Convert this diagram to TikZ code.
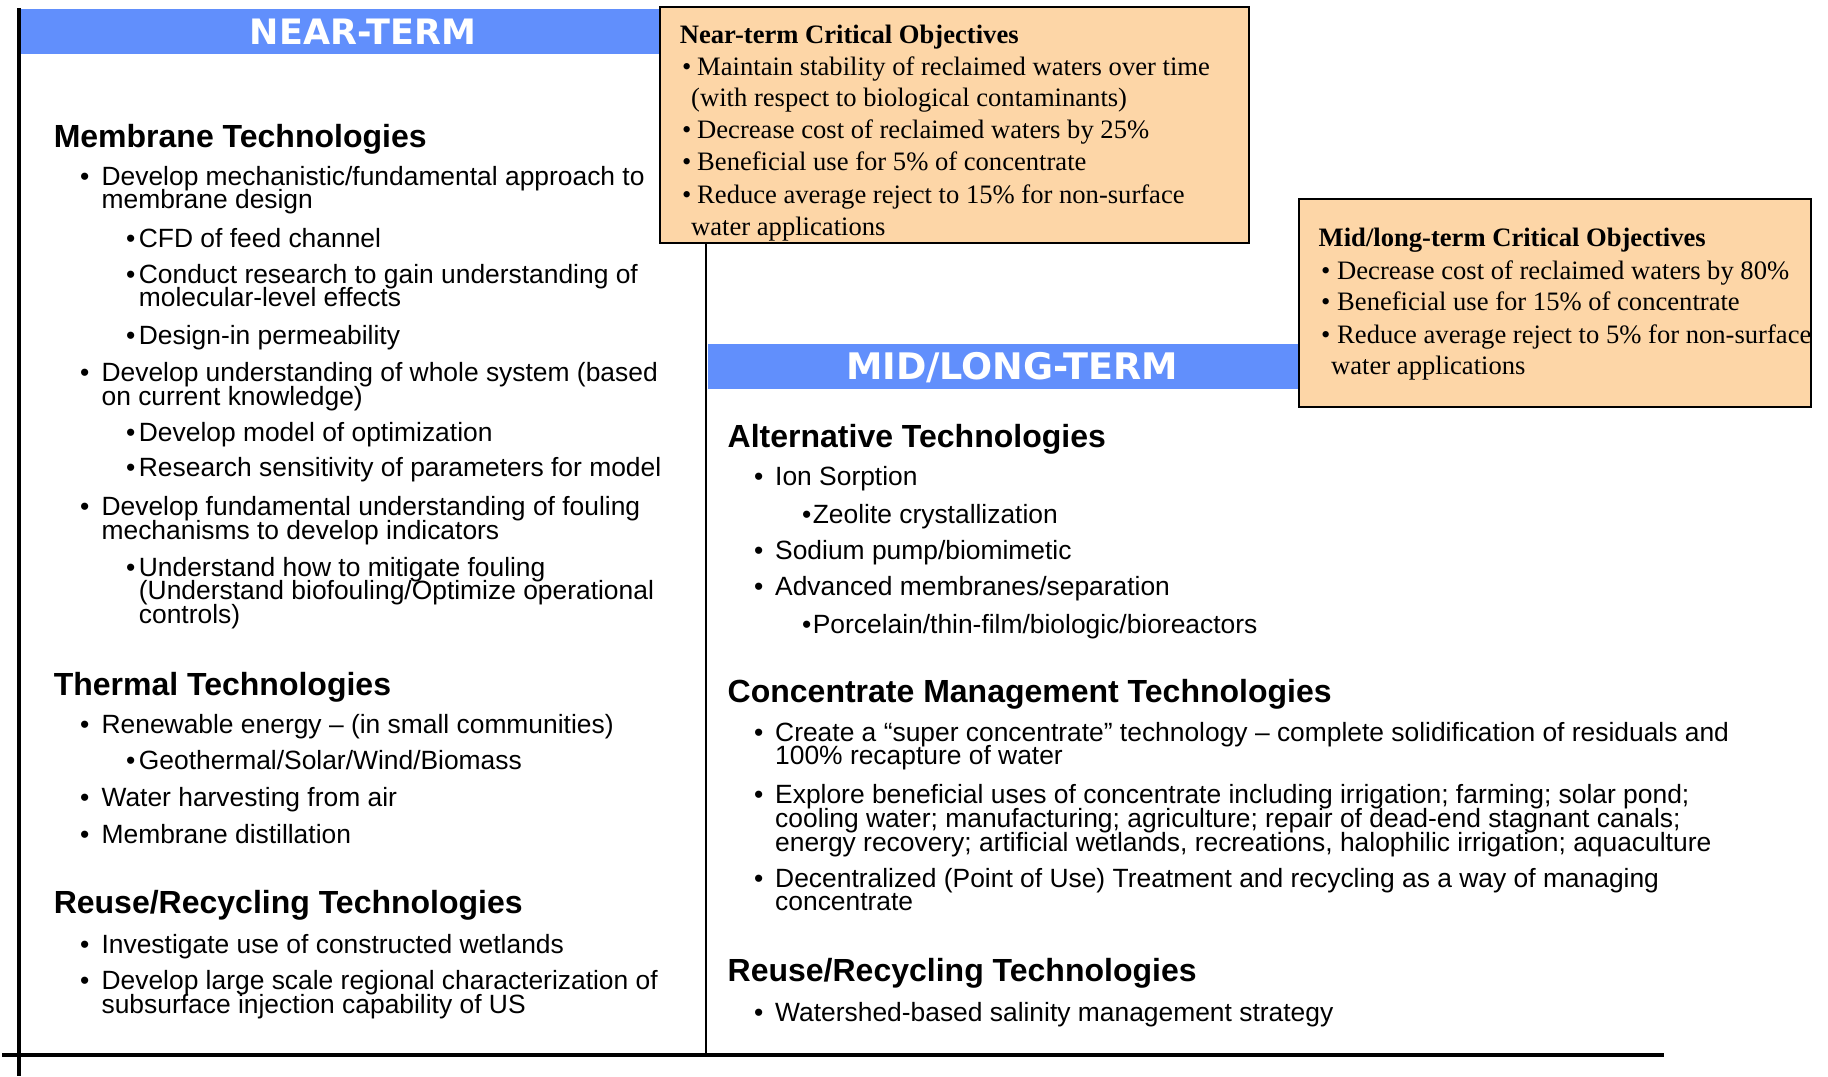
\documentclass[tikz,border=0pt]{standalone}
\usepackage{fontspec}
\setmainfont{Liberation Sans}
\newfontfamily\serifF{Liberation Serif}
\newfontfamily\headF{DejaVu Sans}
\definecolor{barblue}{RGB}{97,143,252}
\definecolor{peach}{RGB}{253,214,167}
\tikzset{
  bar/.style={fill=barblue, draw=none, inner sep=0, anchor=north west},
  objbox/.style={fill=peach, draw=black, line width=2.2pt, inner sep=0, outer sep=0, anchor=north west},
  band/.style={text=white, inner sep=0, font=\headF\bfseries\fontsize{35}{35}\selectfont, text height=25.5pt, text depth=0pt},
  hd/.style={anchor=west, inner sep=0, font=\bfseries\fontsize{32}{32}\selectfont, text height=22.9pt, text depth=0pt},
  tx/.style={anchor=west, inner sep=0, font=\fontsize{26.4}{26}\selectfont, text height=18.9pt, text depth=0pt},
  ob/.style={anchor=west, inner sep=0, font=\serifF\fontsize{26.6}{26}\selectfont, text height=17.6pt, text depth=0pt},
  obt/.style={ob, font=\serifF\bfseries\fontsize{26.6}{26}\selectfont},
  frameline/.style={line width=3.8pt, black},
  divline/.style={line width=1.6pt, black}
}
\newcommand\bitem[5]{%
  \node[tx] (#1-b) at (#2,#4) {\textbullet};
  \node[tx] (#1) at (#3,#4) {#5};}
\newcommand\contl[4]{\node[tx] (#1) at (#2,#3) {#4};}
\newcommand\oitem[5]{%
  \node[ob] (#1-b) at (#2,#4) {\textbullet};
  \node[ob] (#1) at (#3,#4) {#5};}
\begin{document}
\begin{tikzpicture}[x=1pt,y=-1pt]
\useasboundingbox (0,0) rectangle (1828,1076);
\fill[white] (0,0) rectangle (1828,1076);

% bands
\node[bar, minimum width=639pt, minimum height=45pt] (nearbar) at (21,9) {};
\node[bar, minimum width=591pt, minimum height=45pt] (midbar) at (708,344) {};
\node[band] (neartitle) at (363,31.5) {NEAR-TERM};
\node[band, font=\headF\bfseries\fontsize{36.6}{36}\selectfont, text height=26.6pt] (midtitle) at (1012,366.5) {MID/LONG-TERM};

% objective boxes
\node[objbox, minimum width=589pt, minimum height=236pt] (nearbox) at (660,7) {};
\node[objbox, minimum width=512pt, minimum height=208pt] (midbox) at (1299,199) {};

% frame lines
\coordinate (ltop) at (19,8);
\coordinate (lbot) at (19,1076);
\coordinate (bl) at (2,1055);
\coordinate (br) at (1664,1055);
\coordinate (divtop) at (706,243);
\coordinate (divbot) at (706,1055);
\draw[frameline] (ltop) -- (lbot);
\draw[frameline, line width=4.5pt] (bl) -- (br);
\draw[divline] (divtop) -- (divbot);

% near-term objectives
\node[obt] (nobj) at (679.7,35) {Near-term Critical Objectives};
\oitem{n1}{682}{697}{66.5}{Maintain stability of reclaimed waters over time}
\node[ob] (n1c) at (691,98) {(with respect to biological contaminants)};
\oitem{n2}{682}{697}{129.4}{Decrease cost of reclaimed waters by 25\%}
\oitem{n3}{682}{697}{162}{Beneficial use for 5\% of concentrate}
\oitem{n4}{682}{697}{194.7}{Reduce average reject to 15\% for non-surface}
\node[ob] (n4c) at (691,226.2) {water applications};

% mid/long-term objectives
\node[obt] (mobj) at (1318.5,237.8) {Mid/long-term Critical Objectives};
\oitem{o1}{1321}{1337}{270.5}{Decrease cost of reclaimed waters by 80\%}
\oitem{o2}{1321}{1337}{302}{Beneficial use for 15\% of concentrate}
\oitem{o3}{1321}{1337}{334.6}{Reduce average reject to 5\% for non-surface}
\node[ob] (o3c) at (1331,366) {water applications};

% left column
\node[hd] (memh) at (53.6,136.4) {Membrane Technologies};
\bitem{m1}{80}{101.4}{176}{Develop mechanistic/fundamental approach to}
\contl{m1c}{101.4}{199.4}{membrane design}
\bitem{m1a}{126}{138.7}{237.8}{CFD of feed channel}
\bitem{m1b}{126}{138.7}{274}{Conduct research to gain understanding of}
\contl{m1bc}{138.7}{297.3}{molecular-level effects}
\bitem{m1d}{126}{138.7}{334.6}{Design-in permeability}
\bitem{m2}{80}{101.4}{371.9}{Develop understanding of whole system (based}
\contl{m2c}{101.4}{396.4}{on current knowledge)}
\bitem{m2a}{126}{138.7}{432.5}{Develop model of optimization}
\bitem{m2b}{126}{138.7}{467.5}{Research sensitivity of parameters for model}
\bitem{m3}{80}{101.4}{506}{Develop fundamental understanding of fouling}
\contl{m3c}{101.4}{530.4}{mechanisms to develop indicators}
\bitem{m3a}{126}{138.7}{566.6}{Understand how to mitigate fouling}
\contl{m3ac}{138.7}{589.9}{(Understand biofouling/Optimize operational}
\contl{m3ad}{138.7}{614.4}{controls)}

\node[hd] (thh) at (53.6,684.3) {Thermal Technologies};
\bitem{t1}{80}{101.4}{724}{Renewable energy – (in small communities)}
\bitem{t1a}{126}{138.7}{760.1}{Geothermal/Solar/Wind/Biomass}
\bitem{t2}{80}{101.4}{797.4}{Water harvesting from air}
\bitem{t3}{80}{101.4}{833.6}{Membrane distillation}

\node[hd] (reh) at (53.6,902.3) {Reuse/Recycling Technologies};
\bitem{r1}{80}{101.4}{944.3}{Investigate use of constructed wetlands}
\bitem{r2}{80}{101.4}{980.4}{Develop large scale regional characterization of}
\contl{r2c}{101.4}{1003.8}{subsurface injection capability of US}

% right column
\node[hd] (alth) at (727.5,436) {Alternative Technologies};
\bitem{a1}{754}{775}{475.6}{Ion Sorption}
\bitem{a1a}{802}{812.6}{514.1}{Zeolite crystallization}
\bitem{a2}{754}{775}{550.3}{Sodium pump/biomimetic}
\bitem{a3}{754}{775}{586.4}{Advanced membranes/separation}
\bitem{a3a}{802}{812.6}{623.7}{Porcelain/thin-film/biologic/bioreactors}

\node[hd] (conh) at (727.5,691.3) {Concentrate Management Technologies};
\bitem{c1}{754}{775}{732.1}{Create a “super concentrate” technology – complete solidification of residuals and}
\contl{c1c}{775}{755.4}{100\% recapture of water}
\bitem{c2}{754}{775}{793.9}{Explore beneficial uses of concentrate including irrigation; farming; solar pond;}
\contl{c2c}{775}{818.4}{cooling water; manufacturing; agriculture; repair of dead-end stagnant canals;}
\contl{c2d}{775}{841.7}{energy recovery; artificial wetlands, recreations, halophilic irrigation; aquaculture}
\bitem{c3}{754}{775}{877.9}{Decentralized (Point of Use) Treatment and recycling as a way of managing}
\contl{c3c}{775}{901.2}{concentrate}

\node[hd] (reh2) at (727.5,970) {Reuse/Recycling Technologies};
\bitem{w1}{754}{775}{1011.9}{Watershed-based salinity management strategy}
\end{tikzpicture}
\end{document}
